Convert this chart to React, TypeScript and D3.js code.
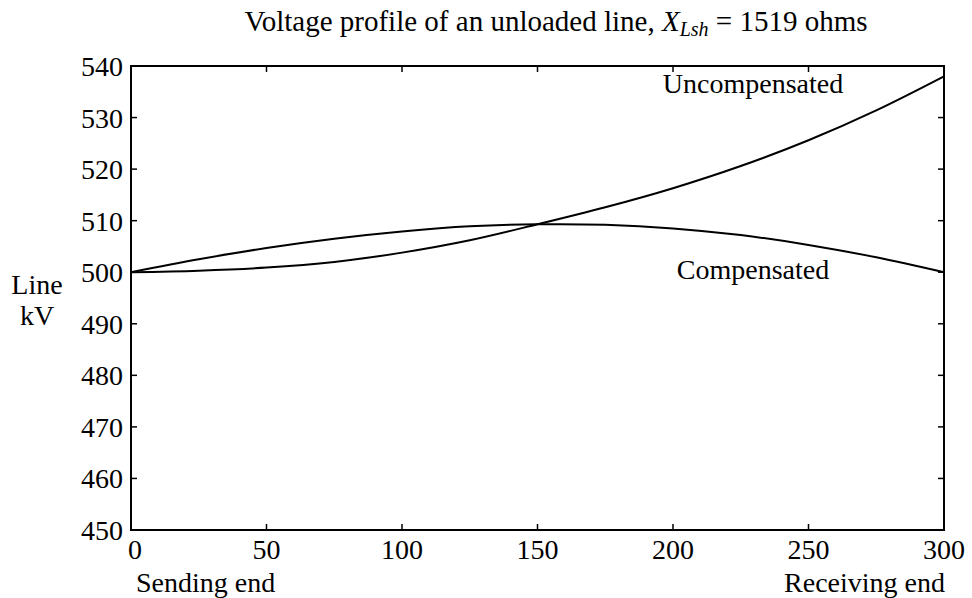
import React from "react";
import * as d3 from "d3";

const distances = [0, 25, 50, 75, 100, 125, 150, 175, 200, 225, 250, 275, 300];
const uncompensated = [500, 500.3, 500.9, 502.0, 503.8, 506.2, 509.3, 512.6, 516.3, 520.6, 525.6, 531.4, 538.0];
const compensated = [500, 502.5, 504.7, 506.5, 507.9, 508.9, 509.3, 509.2, 508.5, 507.2, 505.3, 502.9, 500.0];
const xTicks = [0, 50, 100, 150, 200, 250, 300];
const yTicks = [450, 460, 470, 480, 490, 500, 510, 520, 530, 540];

const W = 972;
const H = 598;
const left = 131;
const right = 944;
const top = 66;
const bottom = 530;
const FONT = "Liberation Serif, Times New Roman, Times, DejaVu Serif, serif";
const fs = { fontFamily: FONT };

export default function App() {
  const x = d3.scaleLinear().domain([0, 300]).range([left, right]);
  const y = d3.scaleLinear().domain([450, 540]).range([bottom, top]);
  const line = d3
    .line<number>()
    .x((_, i) => x(distances[i]))
    .y((d) => y(d))
    .curve(d3.curveCatmullRom);
  const tl = 6;
  return (
    <svg
      width={W}
      height={H}
      style={{ position: "absolute", left: 0, top: 0, background: "#fff", fontFamily: FONT }}
    >
      <rect x={0} y={0} width={W} height={H} fill="#fff" />
      <text x={556} y={31} fontSize={29} textAnchor="middle" fill="#000" style={fs}>
        Voltage profile of an unloaded line,{" "}
        <tspan fontStyle="italic">X</tspan>
        <tspan fontStyle="italic" fontSize={20} dy={5}>Lsh</tspan>
        <tspan dy={-5}> = 1519 ohms</tspan>
      </text>
      <rect x={left} y={top} width={right - left} height={bottom - top} fill="none" stroke="#000" strokeWidth={2} />
      {xTicks.map((t) => (
        <g key={"x" + t}>
          <line x1={x(t)} x2={x(t)} y1={bottom} y2={bottom - tl} stroke="#000" strokeWidth={1.5} />
          <line x1={x(t)} x2={x(t)} y1={top} y2={top + tl} stroke="#000" strokeWidth={1.5} />
          <text x={x(t) + (t === 0 ? 4 : 0)} y={bottom + 29} fontSize={28} textAnchor="middle" fill="#000" style={fs}>
            {t}
          </text>
        </g>
      ))}
      {yTicks.map((t) => (
        <g key={"y" + t}>
          <line x1={left} x2={left + tl} y1={y(t)} y2={y(t)} stroke="#000" strokeWidth={1.5} />
          <line x1={right} x2={right - tl} y1={y(t)} y2={y(t)} stroke="#000" strokeWidth={1.5} />
          <text x={left - 8} y={y(t) + 10} fontSize={28} textAnchor="end" fill="#000" style={fs}>
            {t}
          </text>
        </g>
      ))}
      <path d={line(uncompensated) || ""} fill="none" stroke="#000" strokeWidth={2} />
      <path d={line(compensated) || ""} fill="none" stroke="#000" strokeWidth={2} />
      <text x={753} y={93} fontSize={28} textAnchor="middle" fill="#000" style={fs}>Uncompensated</text>
      <text x={753} y={279} fontSize={28} textAnchor="middle" fill="#000" style={fs}>Compensated</text>
      <text x={37} y={294} fontSize={28} textAnchor="middle" fill="#000" style={fs}>Line</text>
      <text x={37} y={325} fontSize={28} textAnchor="middle" fill="#000" style={fs}>kV</text>
      <text x={136} y={592} fontSize={28} textAnchor="start" fill="#000" style={fs}>Sending end</text>
      <text x={945} y={592} fontSize={28} textAnchor="end" fill="#000" style={fs}>Receiving end</text>
    </svg>
  );
}
